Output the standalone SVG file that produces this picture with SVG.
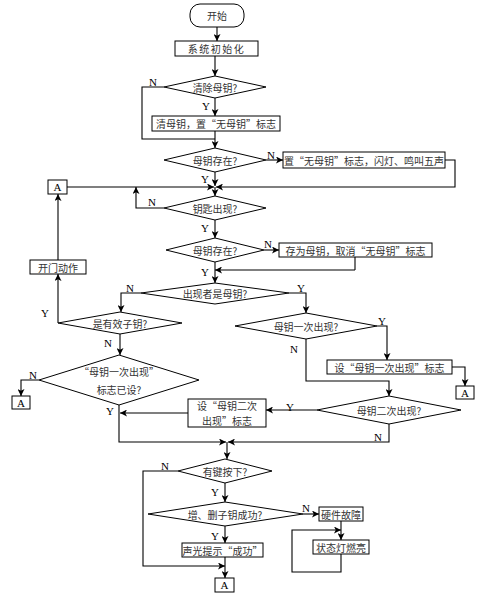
<svg xmlns="http://www.w3.org/2000/svg" width="488" height="600" viewBox="0 0 488 600">
<defs>
<marker id="ah" viewBox="0 0 8 8" refX="8" refY="4" markerWidth="7" markerHeight="7" markerUnits="userSpaceOnUse" orient="auto">
<path d="M0,0 L8,4 L0,8 L2,4 z" fill="#000"/>
</marker>
<style>
.b{fill:#fff;stroke:#000;stroke-width:1}
.c{fill:none;stroke:#000;stroke-width:1.1;marker-end:url(#ah)}
.l{fill:none;stroke:#000;stroke-width:1.1}
.t{font-family:"Noto Sans CJK SC","Liberation Serif",sans-serif;font-size:10px;fill:#333;text-anchor:middle;dominant-baseline:central}
.s{font-family:"Liberation Serif","Noto Sans CJK SC",serif;font-size:11px;fill:#000;text-anchor:middle;dominant-baseline:central}
</style>
</defs>
<rect width="488" height="600" fill="#fff"/>
<g id="connectors">
<path class="c" d="M217,27 V41"/>
<path class="c" d="M215,56 V76"/>
<path class="c" d="M215,98 V116"/>
<path class="c" d="M215,131 V148"/>
<path class="l" d="M164,87 H142 V139 H215"/>
<path class="c" d="M266,160 H283"/>
<path class="c" d="M445,160 H455 V187 H216"/>
<path class="c" d="M67,187 H214"/>
<path class="c" d="M215,172 V186"/>
<path class="c" d="M215,187 V196"/>
<path class="c" d="M164,208 H136 V187"/>
<path class="c" d="M215,220 V238"/>
<path class="c" d="M264,250 H279"/>
<path class="l" d="M355,257 V270"/>
<path class="c" d="M355,270 H215"/>
<path class="c" d="M215,262 V283"/>
<path class="c" d="M141,293 H121 V312"/>
<path class="c" d="M289,293 H306 V313"/>
<path class="c" d="M58,323 V274"/>
<path class="c" d="M58,260 V194"/>
<path class="c" d="M120,334 V355"/>
<path class="c" d="M39,380 H21 V396"/>
<path class="c" d="M119,405 V442 H226"/>
<path class="c" d="M377,326 H387 V360"/>
<path class="c" d="M452,367 H465 V386"/>
<path class="c" d="M306,339 V381 H389 V396"/>
<path class="c" d="M317,410 H266"/>
<path class="c" d="M188,413 H120"/>
<path class="c" d="M389,424 V442 H228"/>
<path class="c" d="M227,442 V459"/>
<path class="c" d="M178,471 H143 V566 H225"/>
<path class="c" d="M225,483 V502"/>
<path class="c" d="M303,514 H319"/>
<path class="c" d="M341,521 V540"/>
<path class="c" d="M341,554 V572 H292 V530 H341"/>
<path class="c" d="M225,526 V543"/>
<path class="c" d="M225,557 V578"/>
</g>
<g id="labels">
<text class="s" x="153" y="82">N</text>
<text class="s" x="206" y="106">Y</text>
<text class="s" x="271" y="155">N</text>
<text class="s" x="205" y="179">Y</text>
<text class="s" x="152" y="202">N</text>
<text class="s" x="205" y="228">Y</text>
<text class="s" x="268" y="244">N</text>
<text class="s" x="205" y="272">Y</text>
<text class="s" x="130" y="288">N</text>
<text class="s" x="301" y="288">Y</text>
<text class="s" x="45" y="313">Y</text>
<text class="s" x="108" y="343">N</text>
<text class="s" x="382" y="321">Y</text>
<text class="s" x="294" y="349">N</text>
<text class="s" x="33" y="375">N</text>
<text class="s" x="110" y="411">Y</text>
<text class="s" x="290" y="407">Y</text>
<text class="s" x="378" y="437">N</text>
<text class="s" x="165" y="466">N</text>
<text class="s" x="215" y="492">Y</text>
<text class="s" x="306" y="508">N</text>
<text class="s" x="215" y="536">Y</text>
</g>
<g id="start"><rect class="b" x="190" y="4" width="54" height="23" rx="10"/><text class="t" x="217" y="15.5">开始</text></g>
<g id="init"><rect class="b" x="175" y="41" width="83" height="15"/><text class="t" x="216.5" y="48.5" letter-spacing="1.5">系统初始化</text></g>
<g id="d_clear"><polygon class="b" points="215,76 266,87 215,98 164,87"/><text class="t" x="215" y="87">清除母钥?</text></g>
<g id="b_clear"><rect class="b" x="152" y="116" width="128" height="15"/><text class="t" x="216" y="123.5">清母钥，置“无母钥”标志</text></g>
<g id="d_exist1"><polygon class="b" points="215,148 266,160 215,172 164,160"/><text class="t" x="215" y="160">母钥存在?</text></g>
<g id="b_nomaster"><rect class="b" x="283" y="152" width="162" height="16"/><text class="t" x="364" y="160">置“无母钥”标志，闪灯、鸣叫五声</text></g>
<g id="a1"><rect class="b" x="48" y="180" width="19" height="14"/><text class="s" x="57.5" y="187">A</text></g>
<g id="d_key"><polygon class="b" points="215,196 266,208 215,220 164,208"/><text class="t" x="215" y="208">钥匙出现?</text></g>
<g id="d_exist2"><polygon class="b" points="215,238 264,250 215,262 166,250"/><text class="t" x="215" y="250">母钥存在?</text></g>
<g id="b_store"><rect class="b" x="279" y="243" width="153" height="14"/><text class="t" x="355.5" y="250">存为母钥，取消“无母钥”标志</text></g>
<g id="d_ismaster"><polygon class="b" points="215,283 289,293 215,304 141,293"/><text class="t" x="215" y="293.5">出现者是母钥?</text></g>
<g id="b_open"><rect class="b" x="30" y="260" width="56" height="14"/><text class="t" x="58" y="267">开门动作</text></g>
<g id="d_valid"><polygon class="b" points="120,312 182,323 120,334 58,323"/><text class="t" x="120" y="323">是有效子钥?</text></g>
<g id="d_flagset"><polygon class="b" points="119,355 199,380 119,405 39,380"/><text class="t" x="119" y="371">“母钥一次出现”</text><text class="t" x="119" y="389">标志已设?</text></g>
<g id="a2"><rect class="b" x="12" y="396" width="18" height="13"/><text class="s" x="21" y="402.5">A</text></g>
<g id="d_first"><polygon class="b" points="306,313 377,326 306,339 235,326"/><text class="t" x="306" y="326">母钥一次出现?</text></g>
<g id="b_setfirst"><rect class="b" x="327" y="360" width="125" height="14"/><text class="t" x="389.5" y="367">设“母钥一次出现”标志</text></g>
<g id="a3"><rect class="b" x="456" y="386" width="18" height="13"/><text class="s" x="465" y="392.5">A</text></g>
<g id="d_second"><polygon class="b" points="389,396 461,410 389,424 317,410"/><text class="t" x="389" y="410">母钥二次出现?</text></g>
<g id="b_setsecond"><rect class="b" x="188" y="399" width="78" height="28"/><text class="t" x="227" y="405.5" font-size="9.5">设“母钥二次</text><text class="t" x="227" y="420" font-size="9.5">出现”标志</text></g>
<g id="d_press"><polygon class="b" points="225,459 272,471 225,483 178,471"/><text class="t" x="225" y="471">有键按下?</text></g>
<g id="d_addel"><polygon class="b" points="225,502 303,514 225,526 148,514"/><text class="t" x="225" y="514">增、删子钥成功?</text></g>
<g id="b_hw"><rect class="b" x="319" y="507" width="44" height="14"/><text class="t" x="341" y="514" font-size="9.5">硬件故障</text></g>
<g id="b_led"><rect class="b" x="313" y="540" width="56" height="14"/><text class="t" x="341" y="547">状态灯燃亮</text></g>
<g id="b_ok"><rect class="b" x="182" y="543" width="81" height="14"/><text class="t" x="222.5" y="550">声光提示“成功”</text></g>
<g id="a4"><rect class="b" x="215" y="578" width="19" height="14"/><text class="s" x="224.5" y="585">A</text></g>
</svg>
